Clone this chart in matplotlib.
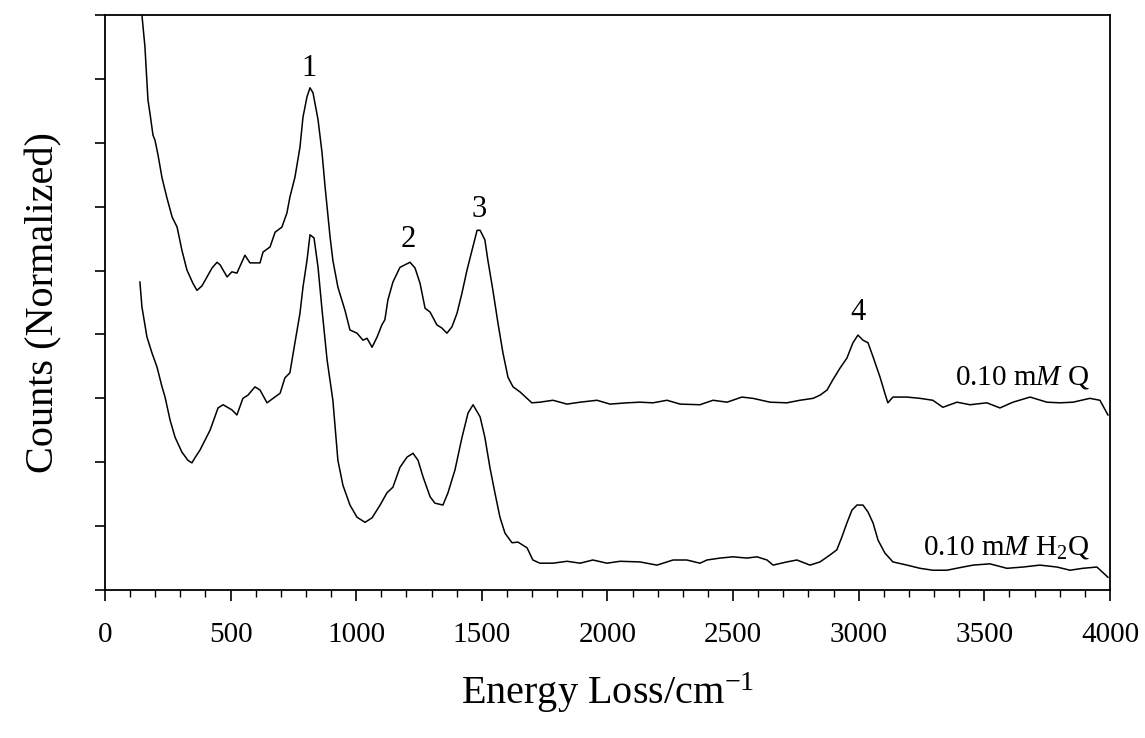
import matplotlib
matplotlib.use("Agg")
import matplotlib.pyplot as plt
from matplotlib.ticker import MultipleLocator

plt.rcParams["font.family"] = ["Liberation Serif", "DejaVu Serif"]
plt.rcParams["mathtext.fontset"] = "custom"
plt.rcParams["mathtext.rm"] = "Liberation Serif"
plt.rcParams["mathtext.it"] = "Liberation Serif:italic"

# 0.10 mM Q (upper trace)
q_energy = [139, 147, 159, 171, 179, 191, 199, 211, 227, 247, 267, 287, 306, 326, 350, 366,
            386, 406, 426, 446, 458, 486, 505, 525, 557, 577, 605, 617, 629, 657, 677, 704,
            724, 736, 756, 776, 788, 804, 816, 828, 848, 864, 876, 896, 907, 927, 955, 975,
            1003, 1027, 1043, 1063, 1083, 1102, 1114, 1126, 1146, 1174, 1214, 1234, 1254, 1274,
            1294, 1321, 1341, 1361, 1381, 1401, 1421, 1441, 1461, 1481, 1493, 1512, 1524, 1544,
            1564, 1584, 1604, 1624, 1652, 1680, 1699, 1731, 1783, 1839, 1891, 1958, 2010, 2078,
            2129, 2181, 2237, 2289, 2368, 2420, 2476, 2535, 2579, 2647, 2714, 2766, 2818, 2846,
            2874, 2897, 2925, 2953, 2977, 2997, 3017, 3037, 3057, 3085, 3104, 3116, 3136, 3192,
            3244, 3295, 3335, 3391, 3443, 3510, 3562, 3614, 3682, 3749, 3801, 3853, 3920, 3960,
            3992]
q_counts = [9.39, 9.00, 8.50, 7.67, 7.46, 7.12, 7.04, 6.81, 6.45, 6.13, 5.84, 5.68, 5.32, 5.01,
            4.80, 4.69, 4.76, 4.90, 5.04, 5.13, 5.09, 4.90, 4.98, 4.96, 5.24, 5.12, 5.12, 5.12,
            5.29, 5.37, 5.60, 5.68, 5.90, 6.15, 6.46, 6.93, 7.40, 7.72, 7.86, 7.78, 7.36, 6.84,
            6.31, 5.52, 5.16, 4.74, 4.38, 4.07, 4.02, 3.91, 3.94, 3.80, 3.96, 4.15, 4.23, 4.54,
            4.82, 5.05, 5.13, 5.04, 4.80, 4.41, 4.35, 4.15, 4.10, 4.02, 4.12, 4.33, 4.65, 5.01,
            5.32, 5.63, 5.63, 5.48, 5.16, 4.69, 4.18, 3.71, 3.33, 3.18, 3.10, 3.00, 2.93, 2.94,
            2.97, 2.91, 2.94, 2.97, 2.91, 2.93, 2.94, 2.93, 2.97, 2.91, 2.90, 2.97, 2.94, 3.02,
            3.00, 2.94, 2.93, 2.97, 3.00, 3.05, 3.13, 3.29, 3.47, 3.63, 3.87, 3.99, 3.91, 3.87,
            3.65, 3.33, 3.08, 2.93, 3.02, 3.02, 3.00, 2.97, 2.86, 2.94, 2.90, 2.93, 2.85, 2.94,
            3.02, 2.94, 2.93, 2.94, 3.00, 2.97, 2.74]

# 0.10 mM H2Q (lower trace)
h2q_energy = [139, 147, 167, 187, 207, 227, 239, 259, 279, 306, 330, 346, 358, 378, 418, 450,
              470, 505, 525, 549, 569, 597, 617, 645, 669, 697, 716, 736, 756, 776, 788, 804,
              816, 832, 848, 864, 884, 907, 927, 947, 975, 1003, 1035, 1063, 1095, 1122, 1146,
              1174, 1202, 1226, 1246, 1266, 1294, 1313, 1345, 1365, 1393, 1421, 1445, 1465, 1493,
              1512, 1532, 1552, 1572, 1592, 1620, 1644, 1680, 1703, 1731, 1783, 1839, 1891, 1942,
              1998, 2050, 2129, 2197, 2261, 2316, 2368, 2396, 2448, 2499, 2555, 2595, 2635, 2659,
              2714, 2754, 2806, 2846, 2886, 2913, 2933, 2953, 2973, 2993, 3017, 3037, 3057, 3077,
              3104, 3136, 3192, 3244, 3295, 3351, 3415, 3455, 3522, 3590, 3654, 3721, 3789, 3841,
              3892, 3948, 3992]
h2q_counts = [4.82, 4.43, 3.96, 3.71, 3.49, 3.18, 3.02, 2.66, 2.39, 2.16, 2.03, 1.99, 2.07, 2.19,
              2.50, 2.85, 2.90, 2.82, 2.74, 3.00, 3.05, 3.18, 3.13, 2.93, 3.00, 3.08, 3.32, 3.40,
              3.87, 4.33, 4.74, 5.16, 5.56, 5.51, 5.05, 4.38, 3.60, 2.97, 2.03, 1.64, 1.33, 1.14,
              1.06, 1.13, 1.33, 1.52, 1.61, 1.92, 2.08, 2.14, 2.03, 1.77, 1.46, 1.36, 1.33, 1.52,
              1.88, 2.39, 2.77, 2.90, 2.71, 2.39, 1.92, 1.52, 1.14, 0.89, 0.74, 0.75, 0.66, 0.47,
              0.42, 0.42, 0.45, 0.42, 0.47, 0.42, 0.45, 0.44, 0.39, 0.47, 0.47, 0.42, 0.47, 0.50,
              0.52, 0.50, 0.52, 0.47, 0.39, 0.44, 0.47, 0.39, 0.44, 0.55, 0.63, 0.83, 1.05, 1.25,
              1.33, 1.33, 1.22, 1.05, 0.78, 0.58, 0.44, 0.39, 0.34, 0.31, 0.31, 0.36, 0.39, 0.41,
              0.34, 0.36, 0.39, 0.36, 0.31, 0.34, 0.36, 0.20]

peak_labels = ["1", "2", "3", "4"]
peak_x = [810, 1206, 1489, 2997]
peak_y = [8.17, 5.48, 5.95, 4.35]

fig = plt.figure(figsize=(11.45, 7.38), dpi=100)
ax = fig.add_axes([0.0917, 0.2005, 0.8777, 0.7792])

ax.plot(q_energy, q_counts, color="black", linewidth=1.1)
ax.plot(h2q_energy, h2q_counts, color="black", linewidth=1.1)

for lab, px, py in zip(peak_labels, peak_x, peak_y):
    ax.text(px, py, lab, fontsize=22, ha="center", va="center")

ax.text(3920, 3.33, "0.10 m$\\mathit{M}$ Q", fontsize=21, ha="right", va="center")
ax.text(3920, 0.66, "0.10 m$\\mathit{M}$ H$_2$Q", fontsize=21, ha="right", va="center")

ax.set_xlim(0, 4000)
ax.set_ylim(0, 9)
ax.xaxis.set_major_locator(MultipleLocator(500))
ax.xaxis.set_minor_locator(MultipleLocator(100))
ax.yaxis.set_major_locator(MultipleLocator(1))
ax.set_yticklabels([])
ax.tick_params(axis="x", which="major", direction="out", length=8, width=1.2, labelsize=21, pad=15)
ax.tick_params(axis="x", which="minor", direction="out", length=5, width=1.0)
ax.tick_params(axis="y", which="major", direction="out", length=7, width=1.2)
for sp in ax.spines.values():
    sp.set_linewidth(1.3)

ax.set_xlabel("Energy Loss/cm$^{-1}$", fontsize=29, labelpad=16)
ax.set_ylabel("Counts (Normalized)", fontsize=29, labelpad=20)

fig.savefig("out.png", dpi=100)
